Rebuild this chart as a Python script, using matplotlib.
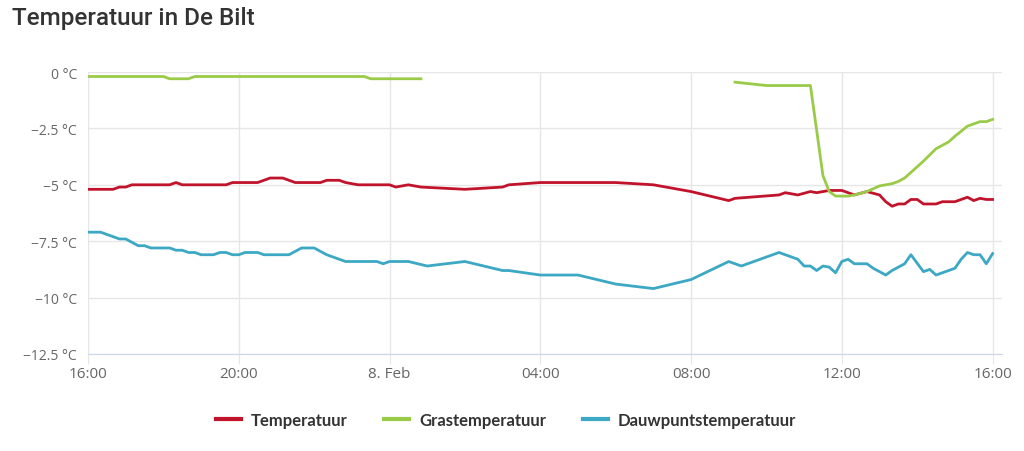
import numpy as np
import pandas as pd
import matplotlib
matplotlib.use('Agg')
import matplotlib.pyplot as plt
import matplotlib.dates as mdates
from matplotlib.ticker import FuncFormatter

# times are "day HH:MM" in February 2021, values in degrees C
temp_times = ['7 16:00', '7 16:40', '7 16:50', '7 17:00', '7 17:10', '7 18:10', '7 18:20', '7 18:30',
              '7 19:40', '7 19:50', '7 20:30', '7 20:50', '7 21:10', '7 21:30', '7 22:10', '7 22:20',
              '7 22:40', '7 22:50', '7 23:10', '8 00:00', '8 00:10', '8 00:30', '8 00:50', '8 02:00',
              '8 03:00', '8 03:10', '8 04:00', '8 06:00', '8 07:00', '8 08:00', '8 09:00', '8 09:10',
              '8 10:20', '8 10:30', '8 10:50', '8 11:10', '8 11:20', '8 11:40', '8 12:00', '8 12:20',
              '8 12:40', '8 13:00', '8 13:10', '8 13:20', '8 13:30', '8 13:40', '8 13:50', '8 14:00',
              '8 14:10', '8 14:30', '8 14:40', '8 15:00', '8 15:20', '8 15:30', '8 15:40', '8 15:50',
              '8 16:00']
temp_values = [-5.2, -5.2, -5.1, -5.1, -5.0, -5.0, -4.9, -5.0,
               -5.0, -4.9, -4.9, -4.7, -4.7, -4.9, -4.9, -4.8,
               -4.8, -4.9, -5.0, -5.0, -5.1, -5.0, -5.1, -5.2,
               -5.1, -5.0, -4.9, -4.9, -5.0, -5.3, -5.7, -5.6,
               -5.45, -5.35, -5.45, -5.3, -5.35, -5.25, -5.25, -5.45,
               -5.3, -5.45, -5.75, -5.95, -5.85, -5.85, -5.65, -5.65,
               -5.85, -5.85, -5.75, -5.75, -5.55, -5.7, -5.6, -5.65,
               -5.65]

gras_times = ['7 16:00', '7 18:00', '7 18:10', '7 18:40', '7 18:50', '7 23:20', '7 23:30', '8 00:50',
              '8 01:00',
              '8 09:10', '8 10:00', '8 11:10', '8 11:30', '8 11:40', '8 11:50', '8 12:10', '8 12:20',
              '8 12:40', '8 13:00', '8 13:20', '8 13:30', '8 13:40', '8 13:50', '8 14:00', '8 14:10',
              '8 14:30', '8 14:50', '8 15:00', '8 15:20', '8 15:40', '8 15:50', '8 16:00']
gras_values = [-0.2, -0.2, -0.3, -0.3, -0.2, -0.2, -0.3, -0.3,
               None,
               -0.45, -0.6, -0.6, -4.6, -5.3, -5.5, -5.5, -5.45,
               -5.3, -5.05, -4.95, -4.85, -4.7, -4.45, -4.2, -3.95,
               -3.4, -3.1, -2.85, -2.4, -2.2, -2.2, -2.1]

dauw_times = ['7 16:00', '7 16:20', '7 16:50', '7 17:00', '7 17:20', '7 17:30', '7 17:40', '7 18:10',
              '7 18:20', '7 18:30', '7 18:40', '7 18:50', '7 19:00', '7 19:20', '7 19:30', '7 19:40',
              '7 19:50', '7 20:00', '7 20:10', '7 20:30', '7 20:40', '7 21:20', '7 21:40', '7 22:00',
              '7 22:20', '7 22:50', '7 23:40', '7 23:50', '8 00:00', '8 00:30', '8 01:00', '8 02:00',
              '8 03:00', '8 03:10', '8 04:00', '8 05:00', '8 06:00', '8 07:00', '8 08:00', '8 09:00',
              '8 09:20', '8 10:00', '8 10:20', '8 10:50', '8 11:00', '8 11:10', '8 11:20', '8 11:30',
              '8 11:40', '8 11:50', '8 12:00', '8 12:10', '8 12:20', '8 12:40', '8 12:50', '8 13:10',
              '8 13:20', '8 13:30', '8 13:40', '8 13:50', '8 14:10', '8 14:20', '8 14:30', '8 14:50',
              '8 15:00', '8 15:10', '8 15:20', '8 15:30', '8 15:40', '8 15:50', '8 16:00']
dauw_values = [-7.1, -7.1, -7.4, -7.4, -7.7, -7.7, -7.8, -7.8,
               -7.9, -7.9, -8.0, -8.0, -8.1, -8.1, -8.0, -8.0,
               -8.1, -8.1, -8.0, -8.0, -8.1, -8.1, -7.8, -7.8,
               -8.1, -8.4, -8.4, -8.5, -8.4, -8.4, -8.6, -8.4,
               -8.8, -8.8, -9.0, -9.0, -9.4, -9.6, -9.2, -8.4,
               -8.6, -8.2, -8.0, -8.3, -8.6, -8.6, -8.8, -8.6,
               -8.65, -8.9, -8.4, -8.3, -8.5, -8.5, -8.7, -9.0,
               -8.8, -8.65, -8.5, -8.1, -8.85, -8.75, -9.0, -8.8,
               -8.7, -8.3, -8.0, -8.1, -8.1, -8.5, -8.05]


def parse(times):
    return pd.to_datetime(['2021-02-%02d %s' % (int(t.split()[0]), t.split()[1]) for t in times])


def tick_label(x, pos):
    d = mdates.num2date(x)
    if d.hour == 0 and d.minute == 0:
        return '%d. Feb' % d.day
    return d.strftime('%H:%M')


def y_label(v, pos):
    s = ('%g' % v).replace('-', '\u2212')
    return s + ' \u00b0C'


plt.rcParams['font.family'] = ['Open Sans', 'DejaVu Sans']

fig = plt.figure(figsize=(10.24, 4.52), dpi=100)
ax = fig.add_axes([88 / 1024, 1 - 355 / 452, (1002 - 88) / 1024, (355 - 73) / 452])

ax.plot(parse(temp_times), np.array(temp_values, dtype=float), color='#c1132b', lw=2.0,
        label='Temperatuur', solid_joinstyle='round')
ax.plot(parse(gras_times), np.array(gras_values, dtype=float), color='#9acb48', lw=2.0,
        label='Grastemperatuur', solid_joinstyle='round')
ax.plot(parse(dauw_times), np.array(dauw_values, dtype=float), color='#3ca8c4', lw=2.0,
        label='Dauwpuntstemperatuur', solid_joinstyle='round')

start = pd.Timestamp('2021-02-07 16:00')
ax.set_xlim(start, start + pd.Timedelta(hours=24.25))
ax.set_ylim(-12.5, 0)

ax.set_xticks(pd.date_range(start, periods=7, freq='4h'))
ax.xaxis.set_major_formatter(FuncFormatter(tick_label))
ax.set_yticks([0, -2.5, -5, -7.5, -10, -12.5])
ax.yaxis.set_major_formatter(FuncFormatter(y_label))

ax.grid(True, color='#e6e6e6', lw=1)
ax.set_axisbelow(True)
for side in ['top', 'right', 'left']:
    ax.spines[side].set_visible(False)
ax.spines['bottom'].set_color('#ccd6eb')
ax.tick_params(axis='x', length=7, color='#e6e6e6', labelsize=11, labelcolor='#666666', pad=2)
ax.tick_params(axis='y', length=0, labelsize=10, labelcolor='#666666', pad=8)

fig.text(12 / 1024, 1 - 19 / 452, 'Temperatuur in De Bilt', fontsize=17.5, fontweight='medium',
         color='#333333', family='Roboto', va='center', ha='left')

leg = fig.legend(loc='center', bbox_to_anchor=(0.4940, 1 - 421 / 452), ncol=3, frameon=False,
                 handlelength=1.5, handletextpad=0.6, columnspacing=2.2,
                 prop={'family': 'Lato', 'weight': 'bold', 'size': 12})
for t in leg.get_texts():
    t.set_color('#333333')
for h in leg.get_lines():
    h.set_linewidth(3)

fig.savefig('out.png', dpi=100)
